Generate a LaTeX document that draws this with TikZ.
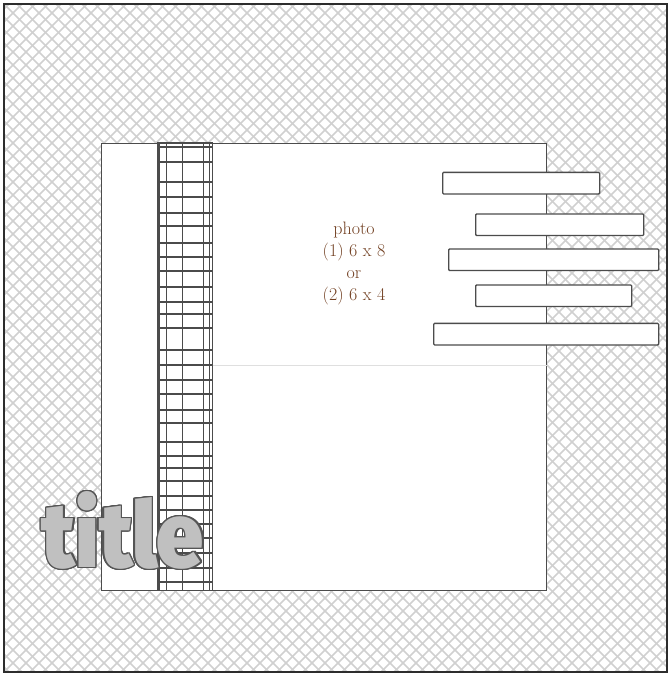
\documentclass[tikz,border=0pt]{standalone}
\usepackage{fontspec}
\usepackage{graphicx}
\usepackage{tikz}
\usetikzlibrary{calc}
\newfontfamily\titlefont{Fira Sans Black}
\definecolor{frameline}{RGB}{45,45,45}
\definecolor{hatchgray}{RGB}{208,208,208}
\definecolor{plaidgray}{RGB}{75,75,75}
\definecolor{inkbrown}{RGB}{115,65,35}
\definecolor{titlefill}{RGB}{192,192,192}
\definecolor{titleedge}{RGB}{85,85,85}
\tikzset{
  hatch/.style={hatchgray, line width=1.6pt},
  block/.style={rectangle, draw=frameline!85, fill=white, line width=1.1pt,
                inner sep=0pt, anchor=north west},
  bar/.style={block, rounded corners=1pt, line width=1.3pt, minimum height=21.6pt},
  plaid/.style={plaidgray, line width=1.4pt},
  divider/.style={gray!25, line width=0.9pt},
  titletext/.style={inner sep=0pt, anchor=south west}
}
\newcommand{\titleword}{\resizebox{162pt}{76pt}{\titlefont title}}

\begin{document}
\begin{tikzpicture}[x=1pt, y=-1pt]
  \useasboundingbox (0,0) rectangle (670,675);
  % cross hatched backdrop
  \begin{scope}
    \clip (4,4) rectangle (667,672);
    \foreach \i in {-676,-663,...,670} \draw[hatch] (\i,0) -- ++(675,675);
    \foreach \i in {0,13,...,1350} \draw[hatch] (\i,0) -- ++(-675,675);
  \end{scope}
  \draw[frameline, line width=2.5pt] (4,4) rectangle (667,672);

  % page and plaid strip
  \node[block, minimum width=445pt, minimum height=447pt] (page) at (101,142.5) {};
  \node[block, minimum width=54pt, minimum height=447pt] (strip) at (157.5,142.5) {};
  \foreach \x in {159.5,166.7,182.7,203.3,209.5}
    \draw[plaid] (\x,142.5) -- (\x,589.5);
  \foreach \y in {147,162,182,197,213,226,243,257,271,287,302,314,328,350,365,380,
                  394,410,423,442,456,468,481,496,510,524,538,553,568,582}
    \draw[plaid] (157.5,\y) -- (211.5,\y);
  \draw[frameline!85, line width=1.1pt] (strip.north west) rectangle (strip.south east);
  \draw[divider] (strip.east |- 0,365) -- (page.east |- 0,365);

  % journaling strips
  \node[bar, minimum width=157pt] (bar1) at (442,171.7) {};
  \node[bar, minimum width=168pt] (bar2) at (475,213.3) {};
  \node[bar, minimum width=210pt] (bar3) at (448,248.3) {};
  \node[bar, minimum width=156pt] (bar4) at (475,284.3) {};
  \node[bar, minimum width=225pt] (bar5) at (433,322.7) {};

  \node[align=center, text=inkbrown, font=\fontsize{18}{22.3}\selectfont, inner sep=0pt]
    (caption) at (354,263.5) {photo\\(1) 6 x 8\\or\\(2) 6 x 4};

  % title with outline
  \coordinate (tt) at (41.5,569.5);
  \foreach \a in {0,20,...,340}
    \node[titletext, text=titleedge] at ($(tt)+(\a:1.4)$) {\titleword};
  \node[titletext, text=titlefill] (title) at (tt) {\titleword};
\end{tikzpicture}
\end{document}
